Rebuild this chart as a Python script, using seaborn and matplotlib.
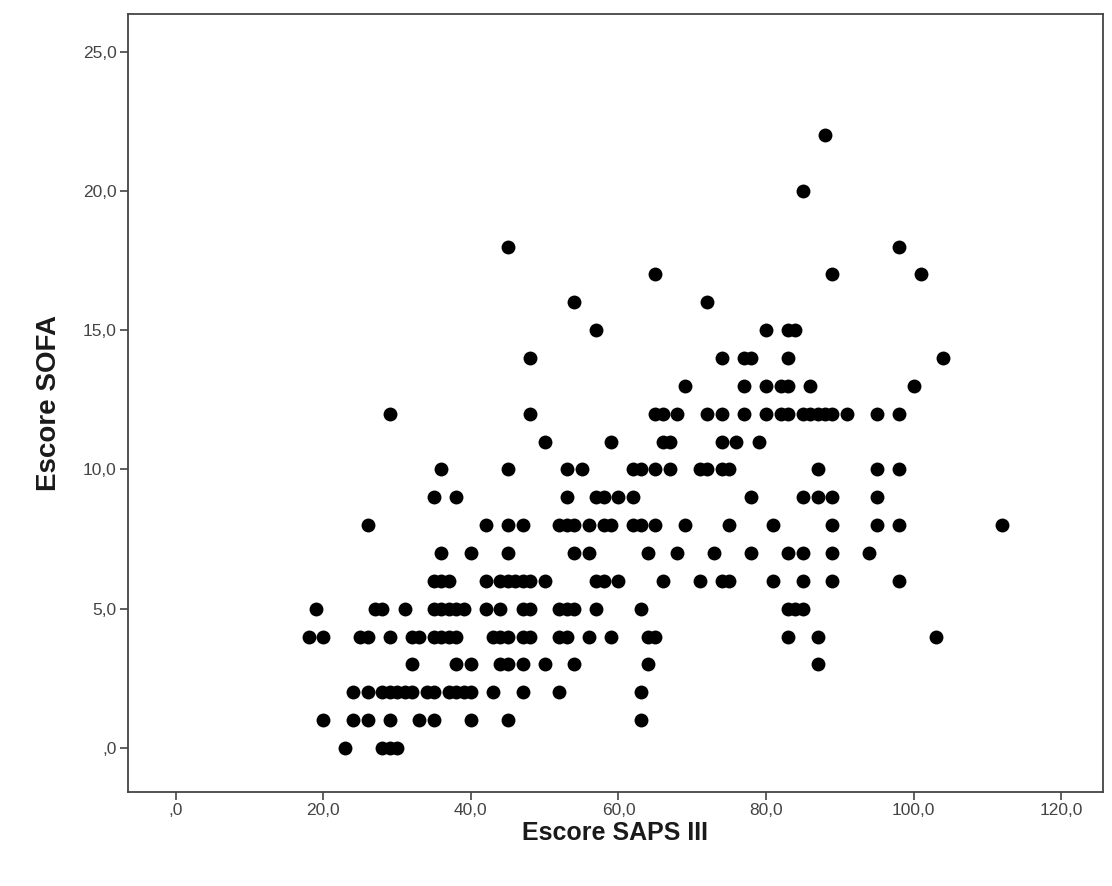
import matplotlib
matplotlib.use("Agg")
import matplotlib.pyplot as plt
import matplotlib.ticker as mticker
import seaborn as sns
import pandas as pd

# SAPS III values, grouped by their SOFA score
saps_sofa0 = [23, 28, 29, 30]
saps_sofa1 = [20, 24, 26, 29, 33, 35, 40, 45, 63]
saps_sofa2 = [24, 26, 28, 29, 30, 31, 32, 34, 35, 37, 38, 39, 40, 43, 47, 52, 63]
saps_sofa3 = [32, 38, 40, 44, 45, 47, 50, 54, 64, 87]
saps_sofa4 = [18, 20, 25, 26, 29, 32, 33, 35, 36, 37, 38, 43, 44, 45, 47, 48,
              52, 53, 56, 59, 64, 65, 83, 87, 103]
saps_sofa5 = [19, 27, 28, 31, 35, 36, 37, 38, 39, 42, 44, 47, 48, 52, 53, 54,
              57, 63, 83, 84, 85]
saps_sofa6 = [35, 36, 37, 42, 44, 45, 46, 47, 48, 50, 57, 58, 60, 66, 71, 74,
              75, 81, 85, 89, 98]
saps_sofa7 = [36, 40, 45, 54, 56, 64, 68, 73, 78, 83, 85, 89, 94]
saps_sofa8 = [26, 42, 45, 47, 52, 53, 54, 56, 58, 59, 62, 63, 65, 69, 75, 81,
              89, 95, 98, 112]
saps_sofa9 = [35, 38, 53, 57, 58, 60, 62, 78, 85, 87, 89, 95]
saps_sofa10 = [36, 45, 53, 55, 62, 63, 65, 67, 71, 72, 74, 75, 87, 95, 98]
saps_sofa11 = [50, 59, 66, 67, 74, 76, 79]
saps_sofa12 = [29, 48, 65, 66, 68, 72, 74, 77, 80, 82, 83, 85, 86, 87, 88, 89,
               91, 95, 98]
saps_sofa13 = [69, 77, 80, 82, 83, 86, 100]
saps_sofa14 = [48, 74, 77, 78, 83, 104]
saps_sofa15 = [57, 80, 83, 84]
saps_sofa16 = [54, 72]
saps_sofa17 = [65, 89, 101]
saps_sofa18 = [45, 98]
saps_sofa20 = [85]
saps_sofa22 = [88]

groups = {
    0: saps_sofa0, 1: saps_sofa1, 2: saps_sofa2, 3: saps_sofa3, 4: saps_sofa4,
    5: saps_sofa5, 6: saps_sofa6, 7: saps_sofa7, 8: saps_sofa8, 9: saps_sofa9,
    10: saps_sofa10, 11: saps_sofa11, 12: saps_sofa12, 13: saps_sofa13,
    14: saps_sofa14, 15: saps_sofa15, 16: saps_sofa16, 17: saps_sofa17,
    18: saps_sofa18, 20: saps_sofa20, 22: saps_sofa22,
}
rows = [(s, sofa) for sofa, vals in groups.items() for s in vals]
df = pd.DataFrame(rows, columns=["saps", "sofa"])

x_ticks = [0, 20, 40, 60, 80, 100, 120]
y_ticks = [0, 5, 10, 15, 20, 25]

sns.set_style("white")
plt.rcParams["font.family"] = ["Liberation Sans", "DejaVu Sans"]

fig = plt.figure(figsize=(11.12, 8.86), dpi=100, facecolor="w")
ax = fig.add_axes([0.115, 0.106, 0.877, 0.878])

sns.scatterplot(data=df, x="saps", y="sofa", color="black", s=100,
                linewidth=0, ax=ax)

ax.set_xlim(-6.5, 125.7)
ax.set_ylim(-1.58, 26.34)
ax.set_xticks(x_ticks)
ax.set_yticks(y_ticks)


def comma_fmt(v, pos):
    s = f"{v:.1f}".replace(".", ",")
    return s[1:] if s.startswith("0,") else s


ax.xaxis.set_major_formatter(mticker.FuncFormatter(comma_fmt))
ax.yaxis.set_major_formatter(mticker.FuncFormatter(comma_fmt))

for sp in ax.spines.values():
    sp.set_color("#444444")
    sp.set_linewidth(1.3)

ax.tick_params(axis="both", direction="out", length=6, width=1.2,
               color="#444444", labelsize=12.5, labelcolor="#444444",
               bottom=True, left=True, pad=2)

ax.set_xlabel("Escore SAPS III", fontsize=18, fontweight="bold", labelpad=2,
              color="#1a1a1a")
ax.set_ylabel("Escore SOFA", fontsize=20, fontweight="bold", labelpad=15,
              color="#1a1a1a")

plt.savefig("out.png", dpi=100)
